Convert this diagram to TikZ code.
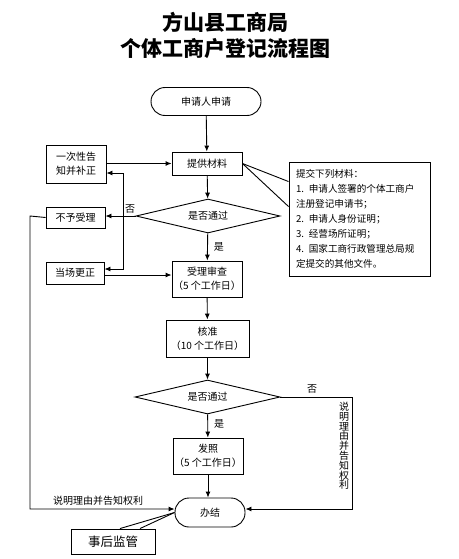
\documentclass[tikz,border=0pt]{standalone}
\usepackage{fontspec}
\setmainfont{Noto Sans CJK SC}
\usetikzlibrary{shapes.geometric,arrows.meta}
\tikzset{
  box/.style={draw, line width=0.9pt, inner sep=0pt, align=center, font=\fontsize{10}{14}\selectfont},
  term/.style={box, rounded corners=14pt},
  decision/.style={draw, diamond, line width=0.9pt, inner sep=0pt, aspect=4, font=\fontsize{10}{12}\selectfont},
  arr/.style={-{Latex[length=6pt,width=5pt]}, line width=0.9pt},
  plain/.style={line width=0.9pt},
  lbl/.style={inner sep=0pt, font=\fontsize{10}{12}\selectfont}
}
\begin{document}
\begin{tikzpicture}[x=1pt, y=-1pt]
        \useasboundingbox (0,0) rectangle (458,559);
        \node[font=\bfseries\fontsize{21}{26}\selectfont, align=center] (title) at (225,35) {方山县工商局\\个体工商户登记流程图};

        % main column
        \node[term, minimum width=110pt, minimum height=28pt] (apply) at (206,101.5) {申请人申请};
        \node[box, minimum width=70pt, minimum height=23pt] (material) at (207,163.5) {提供材料};
        \node[decision, minimum width=144pt, minimum height=34pt] (check1) at (208,216) {是否通过};
        \node[box, minimum width=70pt, minimum height=36pt] (review) at (207,279) {受理审查\\（5 个工作日）};
        \node[box, minimum width=83pt, minimum height=37pt] (approve) at (207.5,338.5) {核准\\（10 个工作日）};
        \node[decision, minimum width=145pt, minimum height=34pt] (check2) at (207.5,397) {是否通过};
        \node[box, minimum width=70pt, minimum height=36pt] (license) at (208,456) {发照\\（5 个工作日）};
        \node[term, minimum width=70pt, minimum height=29pt] (done) at (210,512.5) {办结};

        % left column
        \node[box, minimum width=60pt, minimum height=38pt] (notify) at (76,164) {一次性告\\知并补正};
        \node[box, minimum width=59pt, minimum height=21pt] (reject) at (75.5,217.5) {不予受理};
        \node[box, minimum width=58pt, minimum height=22pt] (fix) at (75,273) {当场更正};
        \node[box, minimum width=84pt, minimum height=25pt, font=\fontsize{12.5}{14}\selectfont] (supervise) at (113,541.5) {事后监管};

        % list of documents
        \node[box, minimum width=141pt, minimum height=114pt, text width=127pt, align=left, font=\fontsize{9.6}{15}\selectfont] (docs) at (359.5,219) {提交下列材料：\\1. 申请人签署的个体工商户\\注册登记申请书；\\2. 申请人身份证明；\\3. 经营场所证明；\\4. 国家工商行政管理总局规\\定提交的其他文件。};

        \coordinate (fork) at (123,216);
        \coordinate (leftturn) at (30,216);
        \coordinate (rightturn) at (352,397);

        \draw[arr] (apply) -- (material);
        \draw[arr] (notify.east |- material.west) -- (material.west);
        \draw[arr] (material) -- (check1);
        \draw[arr] (check1.west) -- (check1.west -| reject.east);
        \node[lbl] (no1) at (130,209) {否};
        \draw[arr] (fork) |- ([yshift=-9pt]notify.east);
        \draw[arr] (fork) |- ([yshift=4pt]fix.east);
        \draw[arr] ([yshift=-2pt]fix.east) -- ([yshift=-2pt]fix.east -| review.west);
        \draw[arr] (check1) -- (review) node[lbl, pos=0.5, right=6pt] (yes1) {是};
        \draw[arr] (review) -- (approve);
        \draw[arr] (approve) -- (check2);
        \draw[arr] (check2) -- (license) node[lbl, pos=0.4, right=6pt] (yes2) {是};
        \draw[arr] (license.south) -- (license.south |- done.north);

        % refused after review
        \draw[arr] (check2.east) -- (rightturn) |- ([yshift=3.5pt]done.east);
        \node[lbl] (no2) at (312,389) {否};
        \node[lbl, align=center, font=\fontsize{10}{9.8}\selectfont] (reason2) at (344,446) {说\\明\\理\\由\\并\\告\\知\\权\\利};

        % refused at once
        \draw[arr] (reject.west) -- (leftturn) |- ([yshift=3.5pt]done.west);
        \node[lbl] (reason1) at (98,501) {说明理由并告知权利};

        % callouts
        \draw[plain] (material.east) -- ([yshift=-20pt]docs.north west);
        \draw[plain] (material.east) -- ([yshift=-45pt]docs.north west);
        \draw[plain] ([xshift=7pt]supervise.north) -- (done.west);
        \draw[plain] ([xshift=27pt]supervise.north) -- (done.west);
    \end{tikzpicture}
\end{document}
